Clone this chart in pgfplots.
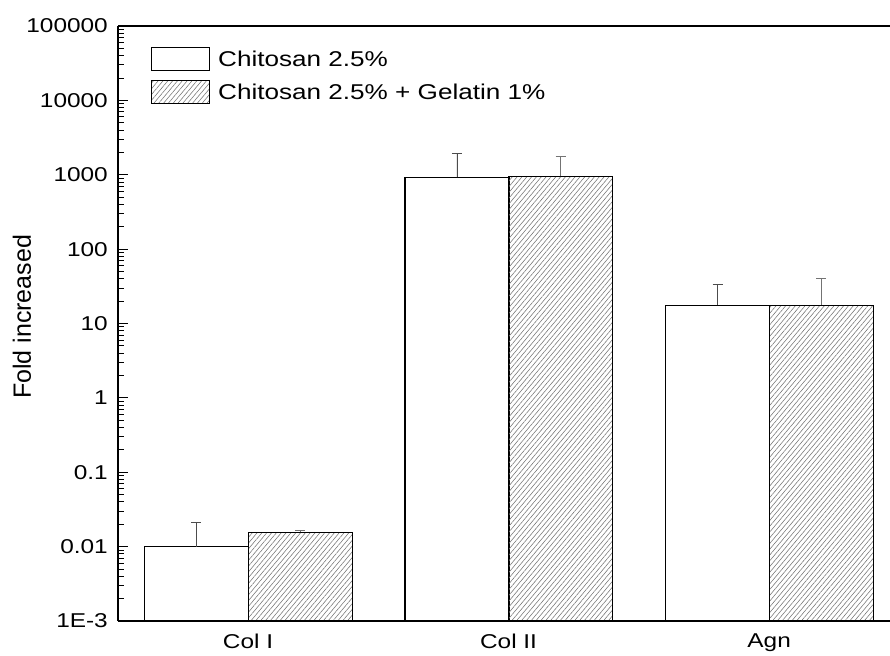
\documentclass[border=0pt]{standalone}
\usepackage{fontspec}
\setmainfont{Liberation Sans}[FakeStretch=1.22]
\newfontfamily\ylabfont{Liberation Sans}
\usepackage{pgfplots}
\pgfplotsset{compat=1.18}
\usetikzlibrary{patterns.meta}

\tikzset{hatch/.style={pattern={Lines[angle=50,distance=3.7pt,line width=0.55pt]}, pattern color=black!55}}

\begin{document}
\begin{tikzpicture}[x=1pt,y=1pt]
\path[use as bounding box] (0,0) rectangle (890,655);
\begin{axis}[
  at={(118pt,34pt)}, anchor=south west,
  scale only axis, width=772pt, height=595pt,
  xmin=-0.499, xmax=2.464,
  ymode=log, ymin=1e-3, ymax=1e5, log origin y=infty,
  axis x line*=box, axis y line*=left,
  axis line style={line width=1.3pt, black},
  xtick={0,1,2}, xticklabels={Col I, Col II, Agn},
  xtick style={draw=none},
  ytick={1e-3,1e-2,1e-1,1,10,100,1000,10000,100000},
  yticklabels={1E-3,0.01,0.1,1,10,100,1000,10000,100000},
  minor ytick={0.002,0.003,0.004,0.005,0.006,0.007,0.008,0.009,
               0.02,0.03,0.04,0.05,0.06,0.07,0.08,0.09,
               0.2,0.3,0.4,0.5,0.6,0.7,0.8,0.9,
               2,3,4,5,6,7,8,9,
               20,30,40,50,60,70,80,90,
               200,300,400,500,600,700,800,900,
               2000,3000,4000,5000,6000,7000,8000,9000,
               20000,30000,40000,50000,60000,70000,80000,90000},
  tick align=inside,
  major tick length=10pt, minor tick length=6pt,
  ytick style={black, line width=0.9pt},
  /pgf/number format/assume math mode=true,
  tick label style={font=\fontsize{20}{22}\selectfont},
  yticklabel style={inner sep=0pt, xshift=-10pt},
  xticklabel style={inner sep=0pt, yshift=-13pt},
  ylabel={\ylabfont\fontsize{25}{28}\selectfont Fold increased},
  every axis y label/.style={at={(axis description cs:-0.1244,0.511)}, rotate=90, anchor=center},
  legend style={at={(0,1)}, anchor=north west, xshift=33pt, yshift=-21pt,
    draw=none, fill=none, inner sep=0pt, row sep=9pt, column sep=8pt,
    font=\fontsize{21.4}{24}\selectfont, cells={anchor=west}, nodes={inner sep=0pt}},
]
% Chitosan 2.5%
\addplot[ybar, bar width=0.399, bar shift=0pt, draw=black, fill=white, line width=1.1pt,
  legend image code/.code={\draw[draw=black, fill=white, line width=1pt] (0pt,-11.5pt) rectangle (58pt,11.5pt);},
  error bars/.cd, y dir=plus, y explicit,
  error bar style={line width=0.9pt, black!70},
  error mark options={rotate=90, mark size=5pt, line width=0.9pt, black!70}]
  coordinates {(-0.198,0.01) +- (0,0.011) (0.802,920) +- (0,1010) (1.802,17.7) +- (0,16)};
\addlegendentry{Chitosan 2.5\%}
% Chitosan 2.5% + Gelatin 1%
\addplot[ybar, bar width=0.399, bar shift=0pt, draw=black, hatch, line width=1.1pt,
  legend image code/.code={\draw[draw=black, hatch, line width=1pt] (0pt,-11.5pt) rectangle (58pt,11.5pt);},
  error bars/.cd, y dir=plus, y explicit,
  error bar style={line width=0.9pt, black!55},
  error mark options={rotate=90, mark size=5pt, line width=0.9pt, black!55}]
  coordinates {(0.2,0.0155) +- (0,0.0009) (1.2,948) +- (0,814) (2.2,17.7) +- (0,23)};
\addlegendentry{Chitosan 2.5\% + Gelatin 1\%}
\end{axis}
\end{tikzpicture}
\end{document}
